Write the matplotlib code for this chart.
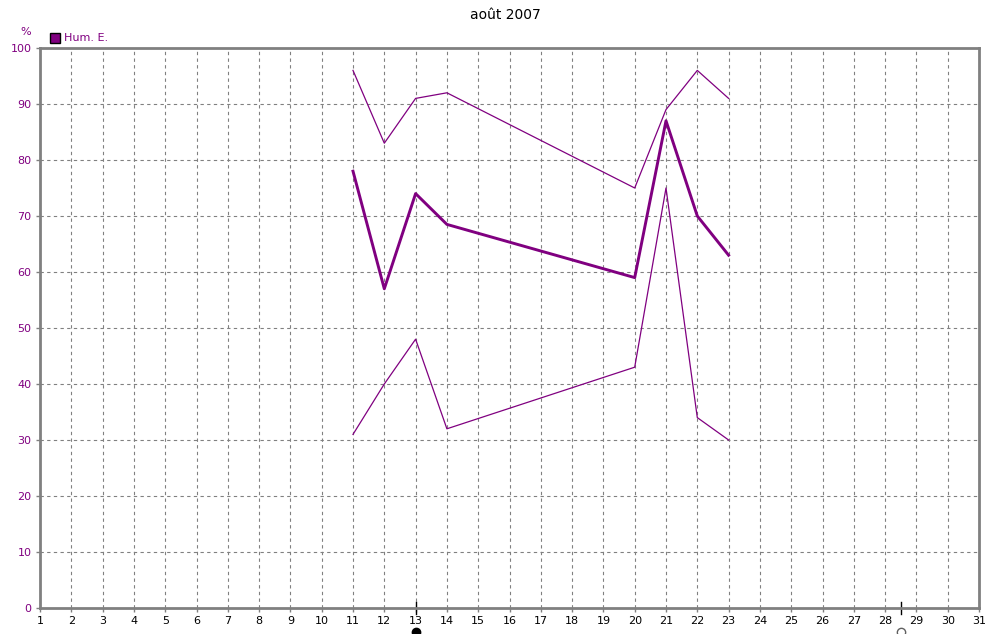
import matplotlib
matplotlib.use("Agg")
import matplotlib.pyplot as plt

days = [11, 12, 13, 14, 20, 21, 22, 23]
hum_max = [96, 83, 91, 92, 75, 89, 96, 91]
hum_mean = [78, 57, 74, 68.5, 59, 87, 70, 63]
hum_min = [31, 40, 48, 32, 43, 75, 34, 30]
x_ticks = list(range(1, 32))
y_ticks = list(range(0, 101, 10))
moon_days = [13, 28.5]

W, H = 1007, 634
fig = plt.figure(figsize=(W / 100, H / 100), dpi=100)
ax = fig.add_axes([40 / W, (H - 608) / H, (979 - 40) / W, (608 - 48) / H])

purple = '#800080'
ax.plot(days, hum_max, color=purple, lw=0.9)
ax.plot(days, hum_min, color=purple, lw=0.9)
ax.plot(days, hum_mean, color=purple, lw=2.1)

ax.set_xlim(1, 31)
ax.set_ylim(0, 100)
ax.set_xticks(x_ticks)
ax.set_yticks(y_ticks)
ax.set_xticklabels([str(d) for d in x_ticks], fontsize=8)
ax.set_yticklabels([str(v) for v in y_ticks], fontsize=8, color=purple)
ax.grid(True, color='#808080', ls=(0, (3, 3)), lw=0.8)
for s in ax.spines.values():
    s.set_color('#808080')
    s.set_linewidth(2)
ax.tick_params(axis='both', length=3, width=1, color='#808080', pad=3)

# moon phase markers across the bottom axis
for d in moon_days:
    ax.plot([d, d], [-1.1, 1.1], color='black', lw=1, clip_on=False)
ax.plot(moon_days[0], -4.2, marker='o', ms=6, mfc='black', mec='black', clip_on=False)
ax.plot(moon_days[1], -4.2, marker='o', ms=6, mfc='white', mec='#606060', clip_on=False)

fig.text(505 / W, 1 - 15 / H, 'août 2007', ha='center', va='center', fontsize=10)
fig.text(26 / W, 1 - 32 / H, '%', ha='center', va='center', fontsize=8, color=purple)
fig.patches.append(plt.Rectangle((50 / W, 1 - 43 / H), 10 / W, 10 / H, transform=fig.transFigure,
                                 facecolor=purple, edgecolor='black', lw=1))
fig.text(64 / W, 1 - 38 / H, 'Hum. E.', ha='left', va='center', fontsize=8, color=purple)

fig.savefig('out.png', dpi=100)
